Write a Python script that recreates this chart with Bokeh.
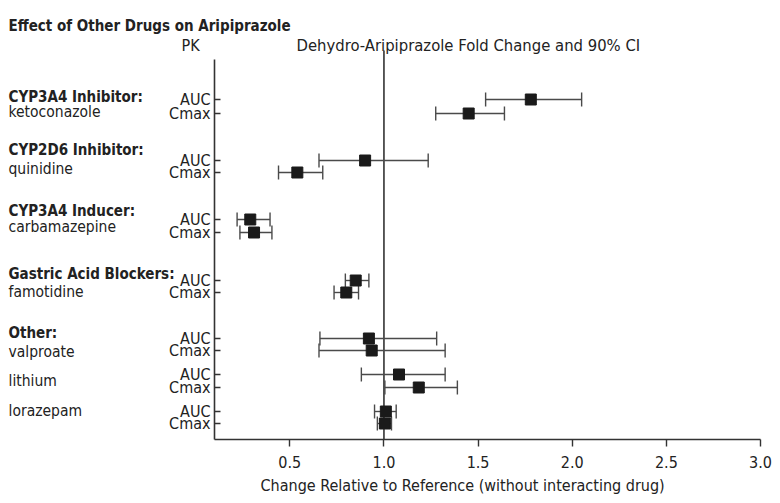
from bokeh.plotting import figure
from bokeh.models import (Range1d, FixedTicker, Whisker, ColumnDataSource, Label,
                          TeeHead)
from bokeh.embed import file_html
from bokeh.resources import INLINE

# ---------------- data ----------------
groups = ["CYP3A4 Inhibitor:", "CYP2D6 Inhibitor:", "CYP3A4 Inducer:",
          "Gastric Acid Blockers:", "Other:"]
drugs = ["ketoconazole", "quinidine", "carbamazepine", "famotidine",
         "valproate", "lithium", "lorazepam"]
auc_est = [1.78, 0.90, 0.29, 0.85, 0.92, 1.08, 1.01]
auc_lo = [1.54, 0.655, 0.22, 0.795, 0.66, 0.88, 0.95]
auc_hi = [2.05, 1.235, 0.395, 0.92, 1.28, 1.325, 1.065]
cmax_est = [1.45, 0.54, 0.31, 0.80, 0.935, 1.185, 1.005]
cmax_lo = [1.275, 0.44, 0.235, 0.735, 0.655, 1.005, 0.965]
cmax_hi = [1.64, 0.675, 0.405, 0.865, 1.325, 1.39, 1.04]
x_ticks = [0.5, 1.0, 1.5, 2.0, 2.5, 3.0]
x_tick_labels = ["0.5", "1.0", "1.5", "2.0", "2.5", "3.0"]
ref_value = 1.0

# ---------------- layout (vertical positions in canvas pixel units) ----------------
auc_row = [99, 160, 219, 280, 338, 374, 411]
cmax_row = [113, 172, 232, 292, 350, 387, 423]
group_base = [96.7, 149.3, 210.7, 273.3, 332.3]
drug_base = [111.7, 168.3, 226, 291.7, 351, 380.7, 410]

FONT = "DejaVu Sans Condensed"
TXT = "#222222"
X0, X1 = 0.1, 3.0
AXIS_Y = 439
AXIS_TOP = 59
REF_TOP = 50
W, H = 772, 495
LEFT_PX, RIGHT_PX = 214, 760
PPU = (RIGHT_PX - LEFT_PX) / (X1 - X0)


def px_to_x(px):
    return X0 + (px - LEFT_PX) / PPU


p = figure(width=W, height=H, output_backend="svg", toolbar_location=None,
           x_range=Range1d(px_to_x(0), px_to_x(W)),
           y_range=Range1d(H, 0),
           min_border_left=0, min_border_right=0, min_border_top=0,
           min_border_bottom=0, title=None)
p.outline_line_color = None
p.grid.visible = False
p.background_fill_color = "white"

# x axis
xa = p.xaxis[0]
xa.fixed_location = AXIS_Y
xa.bounds = (X0, X1)
xa.ticker = FixedTicker(ticks=x_ticks)
xa.major_label_overrides = {t: l for t, l in zip(x_ticks, x_tick_labels)}
xa.minor_tick_line_color = None
xa.major_tick_in = 0
xa.major_tick_out = 7
xa.major_label_standoff = 9
xa.axis_line_color = "#333333"
xa.axis_line_width = 1.6
xa.major_tick_line_color = "#333333"
xa.major_tick_line_width = 1.4
xa.major_label_text_font = FONT
xa.major_label_text_font_size = "16px"
xa.major_label_text_color = TXT

# y axis (PK labels)
ya = p.yaxis[0]
ya.fixed_location = X0
ya.bounds = (AXIS_TOP, AXIS_Y)
ya.ticker = FixedTicker(ticks=auc_row + cmax_row)
ov = {}
for y in auc_row:
    ov[y] = "AUC"
for y in cmax_row:
    ov[y] = "Cmax"
ya.major_label_overrides = ov
ya.minor_tick_line_color = None
ya.major_tick_in = 6
ya.major_tick_out = 0
ya.major_label_standoff = 4
ya.axis_line_color = "#333333"
ya.axis_line_width = 1.6
ya.major_tick_line_color = "#333333"
ya.major_tick_line_width = 1.4
ya.major_label_text_font = FONT
ya.major_label_text_font_size = "16px"
ya.major_label_text_color = TXT

# reference line at no change
p.segment(x0=[ref_value], y0=[REF_TOP], x1=[ref_value], y1=[AXIS_Y],
          line_color="#333333", line_width=1.6, level="underlay")

# data
src = ColumnDataSource(dict(
    y=auc_row + cmax_row,
    est=auc_est + cmax_est,
    lo=auc_lo + cmax_lo,
    hi=auc_hi + cmax_hi,
))
wc = "#4a4a4a"
p.add_layout(Whisker(source=src, base="y", lower="lo", upper="hi",
                     dimension="width", line_color=wc, line_width=1.4,
                     upper_head=TeeHead(size=14, line_color=wc, line_width=1.4),
                     lower_head=TeeHead(size=14, line_color=wc, line_width=1.4)))
p.scatter(x="est", y="y", source=src, marker="square", size=11,
          fill_color="#1a1a1a", line_color="#1a1a1a")


# texts
def lab(text, px, y, size="16px", bold=False, align="left", baseline="alphabetic"):
    p.add_layout(Label(x=px_to_x(px), y=y, text=text, text_font=FONT,
                       text_font_size=size, text_color=TXT,
                       text_font_style="bold" if bold else "normal",
                       text_align=align, text_baseline=baseline))


lab("Effect of Other Drugs on Aripiprazole", 8, 25, size="15px", bold=True)
lab("PK", 181, 45)
lab("Dehydro-Aripiprazole Fold Change and 90% CI", 296, 45, size="16.5px")
for g, yb in zip(groups, group_base):
    lab(g, 8, yb, size="15px", bold=True)
for d, yb in zip(drugs, drug_base):
    lab(d, 8, yb, size="15.5px")
lab("Change Relative to Reference (without interacting drug)", 260, 485)

open("out.html", "w").write(file_html(p, INLINE))
